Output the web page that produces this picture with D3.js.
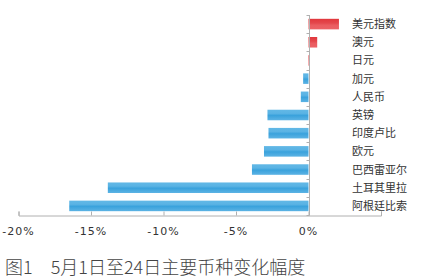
<!DOCTYPE html>
<html>
<head>
<meta charset="utf-8">
<script src="https://cdn.jsdelivr.net/npm/d3@7"></script>
<style>
  body { margin: 0; background: #fff; }
  svg { display: block; font-family: "Noto Sans CJK SC", sans-serif; }
</style>
</head>
<body>
<svg id="chart"></svg>
<script>
// Data (percent change, 5/1 - 5/24)
const currencies = ['美元指数', '澳元', '日元', '加元', '人民币', '英镑', '印度卢比', '欧元', '巴西雷亚尔', '土耳其里拉', '阿根廷比索'];
const changes = [2.1, 0.6, 0.1, -0.37, -0.53, -2.83, -2.76, -3.07, -3.9, -13.84, -16.5];
const xTicks = [-20, -15, -10, -5, 0, 5];
const caption = '图1　5月1日至24日主要币种变化幅度';

const width = 422;
const height = 279;

const svg = d3.select('#chart')
  .attr('width', width)
  .attr('height', height);

// Gradients
const defs = svg.append('defs');
const blue = defs.append('linearGradient')
  .attr('id', 'blueGrad').attr('x1', 0).attr('y1', 0).attr('x2', 0).attr('y2', 1);
blue.append('stop').attr('offset', '0%').attr('stop-color', '#62b8e6');
blue.append('stop').attr('offset', '35%').attr('stop-color', '#5ab3e4');
blue.append('stop').attr('offset', '55%').attr('stop-color', '#3aa2dc');
blue.append('stop').attr('offset', '100%').attr('stop-color', '#5cb3e4');

const red = defs.append('linearGradient')
  .attr('id', 'redGrad').attr('x1', 0).attr('y1', 0).attr('x2', 0).attr('y2', 1);
red.append('stop').attr('offset', '0%').attr('stop-color', '#e1373c');
red.append('stop').attr('offset', '40%').attr('stop-color', '#e4474c');
red.append('stop').attr('offset', '60%').attr('stop-color', '#ea5c60');
red.append('stop').attr('offset', '100%').attr('stop-color', '#ec6266');

// Scales
const x = d3.scaleLinear()
  .domain([-20, 5])
  .range([18.5, 381]);

const y = d3.scaleBand()
  .domain(currencies)
  .range([15, 215])
  .paddingInner(0.42)
  .paddingOuter(0.21);

const rows = currencies.map((name, i) => ({ name, value: changes[i] }));

// Bars
svg.selectAll('rect.bar')
  .data(rows)
  .enter().append('rect')
    .attr('class', 'bar')
    .attr('x', d => x(Math.min(0, d.value)))
    .attr('y', d => y(d.name))
    .attr('width', d => Math.abs(x(d.value) - x(0)))
    .attr('height', y.bandwidth())
    .attr('fill', d => d.value >= 0 ? 'url(#redGrad)' : 'url(#blueGrad)');

// X axis (ticks pointing up)
const xAxis = svg.append('g')
  .attr('transform', `translate(0,${215.5})`)
  .call(d3.axisTop(x).tickValues(xTicks).tickSize(4).tickFormat(''));
xAxis.select('.domain').attr('stroke', '#b0b0b0');
xAxis.selectAll('.tick line').attr('stroke', '#b0b0b0');

svg.selectAll('text.xlab')
  .data(xTicks.filter(t => t <= 0))
  .enter().append('text')
    .attr('class', 'xlab')
    .attr('x', d => x(d))
    .attr('y', 235)
    .attr('text-anchor', 'middle')
    .attr('font-size', 11)
    .attr('letter-spacing', 1)
    .attr('fill', '#333')
    .attr('font-family', '"DejaVu Sans", sans-serif')
    .text(d => d + '%');

// Y axis line with small ticks at band boundaries
const zeroX = Math.round(x(0)) + 0.5;
svg.append('line')
  .attr('x1', zeroX).attr('x2', zeroX)
  .attr('y1', 15).attr('y2', 215.5)
  .attr('stroke', '#b0b0b0');

const boundaries = d3.range(currencies.length + 1).map(i => 15 + i * (200 / currencies.length));
svg.selectAll('line.ytick')
  .data(boundaries)
  .enter().append('line')
    .attr('class', 'ytick')
    .attr('x1', zeroX - 3).attr('x2', zeroX)
    .attr('y1', d => Math.round(d) + 0.5)
    .attr('y2', d => Math.round(d) + 0.5)
    .attr('stroke', '#b0b0b0');

// Category labels on the right
svg.selectAll('text.cat')
  .data(currencies)
  .enter().append('text')
    .attr('class', 'cat')
    .attr('x', 352)
    .attr('y', d => y(d) + y.bandwidth() / 2)
    .attr('dy', '0.36em')
    .attr('font-size', 11)
    .attr('fill', '#333')
    .text(d => d);

// Caption
svg.append('text')
  .attr('x', 5)
  .attr('y', 274)
  .attr('font-size', 18)
  .attr('fill', '#444')
  .attr('font-weight', 300)
  .text(caption);
</script>
</body>
</html>
